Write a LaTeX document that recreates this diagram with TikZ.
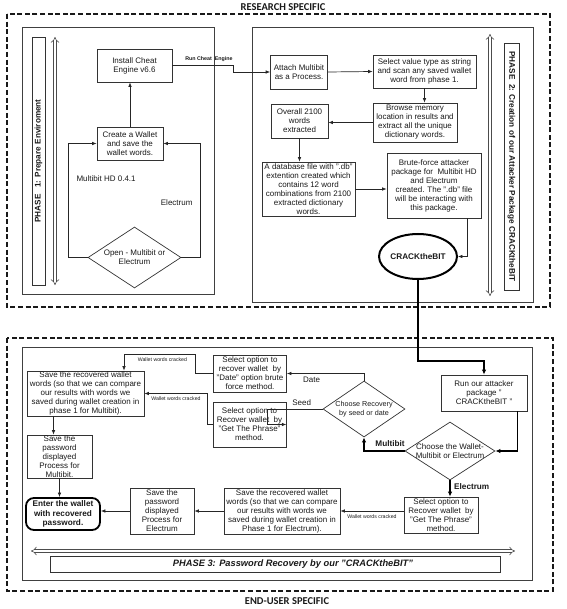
\documentclass[tikz,border=0pt]{standalone}
\usepackage{fontspec}
\setmainfont{Liberation Sans}
\newfontfamily\headfont{Carlito}
\usetikzlibrary{shapes.geometric,arrows.meta}

\begin{document}
\begin{tikzpicture}[x=1pt,y=-1pt,
  every node/.style={font=\fontsize{8}{9}\selectfont,text=black!90},
  proc node/.style={rectangle,draw=black!80,line width=0.7pt,align=center,inner sep=0.5pt},
  decision node/.style={diamond,draw=black!80,line width=0.7pt,inner sep=0pt},
  zone/.style={draw=black!90,line width=1.4pt,dash pattern=on 5pt off 2.6pt},
  panel/.style={draw=black!75,line width=0.8pt},
  flow/.style={draw=black!85,line width=0.7pt,-{Latex[length=4.5pt,width=3.6pt]}},
  thick flow/.style={draw=black,line width=1.7pt,-{Latex[length=5pt,width=4.4pt]}},
  hollow arrow/.style={draw=black!70,line width=0.6pt,double=white,double distance=2.4pt,{Implies}-{Implies}},
  phase label/.style={draw=black!80,line width=0.7pt,font=\bfseries\fontsize{8.2}{9.2}\selectfont,inner sep=0pt},
  tiny label/.style={font=\fontsize{5.2}{6}\selectfont},
  tiny bold/.style={font=\bfseries\fontsize{5.3}{6}\selectfont},
  bold label/.style={font=\bfseries\fontsize{8.2}{9.2}\selectfont},
  title/.style={font=\headfont\bfseries\fontsize{10.5}{12}\selectfont}]

  \useasboundingbox (0,0) rectangle (566,609);

  % research specific part
  \node[title] (research) at (283,7) {RESEARCH SPECIFIC};
  \draw[zone] (7,14) rectangle (550,307);
  \draw[panel] (22,27) rectangle (214,294);
  \draw[panel] (252,27) rectangle (533,302);

  % phase 1
  \node[phase label,rotate=90,minimum width=248,minimum height=13] (phase1) at (38.5,161) {PHASE\ \ \ 1: Prepare Enviroment};
  \coordinate (p1top) at (55,37);
  \coordinate (p1bot) at (55,285);
  \draw[hollow arrow] (p1top) -- (p1bot);

  \node[proc node,minimum width=75,minimum height=33] (install) at (134.5,65.5) {Install Cheat\\Engine v6.6};
  \node[proc node,minimum width=66,minimum height=33] (create) at (130,143.5) {Create a Wallet\\and save the\\wallet words.};
  \node[decision node,minimum width=93,minimum height=61] (open) at (134.5,257.5) {};
  \node[align=center] (openTxt) at (open) {Open - Multibit or\\Electrum};
  \node[anchor=west] (mbhd) at (73,179) {Multibit HD 0.4.1};
  \node[anchor=east] (elec) at (196,203) {Electrum};

  \draw[flow] (create.north) -- (create.north |- install.south);
  \draw[flow] (open.west) -- ++(-19,0) |- (create.west);
  \draw[flow] (open.east) -- ++(19,0) |- (create.east);

  % phase 2
  \node[proc node,minimum width=57,minimum height=34] (attach) at (299,72) {Attach Multibit\\as a Process.};
  \node[proc node,minimum width=103,minimum height=33] (select) at (424.5,71.5) {Select value type as string\\and scan any saved wallet\\word from phase 1.};
  \node[proc node,minimum width=84,minimum height=39] (browse) at (415,122.5) {Browse memory\\location in results and\\extract all the unique\\dictionary words.};
  \node[proc node,minimum width=57,minimum height=34] (overall) at (299.5,121) {Overall 2100\\words\\extracted};
  \node[proc node,minimum width=93,minimum height=54] (dbfile) at (308.5,189) {A database file with ".db"\\extention created which\\contains 12 word\\combinations from 2100\\extracted dictionary\\words.};
  \node[proc node,minimum width=94,minimum height=65] (brute) at (434,185.5) {Brute-force attacker\\package for\ \ Multibit HD\\and Electrum\\created. The ".db" file\\will be interacting with\\this package.};
  \node[ellipse,draw=black,line width=2pt,minimum width=71,minimum height=45,inner sep=0pt,bold label] (crack) at (418,256.5) {CRACKtheBIT};

  \node[phase label,rotate=-90,minimum width=247,minimum height=15] (phase2) at (511.5,166.5) {PHASE\ \ 2: Creation of our Attacker Package CRACKtheBIT};
  \coordinate (p2top) at (490,34);
  \coordinate (p2bot) at (490,296);
  \draw[hollow arrow] (p2top) -- (p2bot);

  \draw[flow] (install.east) -- node[tiny bold,above,pos=0.6] (runlbl) {Run Cheat\ \ Engine} ++(61,0) |- (attach.west);
  \draw[flow] (attach.east) -- (select.west);
  \draw[flow] (select.south) -- (select.south |- browse.north);
  \draw[flow] (browse.west) -- (browse.west -| overall.east);
  \draw[flow] (overall.south) -- (overall.south |- dbfile.north);
  \draw[flow] (dbfile.east) -- (dbfile.east -| brute.west);
  \draw[flow] ([xshift=-14pt]brute.south east) |- (crack.east);

  % end-user specific part
  \node[title] (enduser) at (287,601) {END-USER SPECIFIC};
  \draw[zone] (7,338) rectangle (553,591);
  \draw[panel] (22,347) rectangle (532,580);

  \node[proc node,minimum width=86,minimum height=36] (run) at (484,393) {Run our attacker\\package "\\CRACKtheBIT "};
  \node[decision node,minimum width=90,minimum height=58] (wallet) at (450,451) {};
  \node[align=center] (walletTxt) at (wallet) {Choose the Wallet-\\Multibit or Electrum};
  \node[decision node,minimum width=82,minimum height=56] (recovery) at (364,409) {};
  \node[align=center,font=\fontsize{7.2}{8.4}\selectfont] (recoveryTxt) at (recovery) {Choose Recovery\\by seed or date};
  \node[proc node,minimum width=73,minimum height=37] (datebox) at (250,373.5) {Select option to\\recover wallet\ \ by\\"Date" option brute\\force method.};
  \node[proc node,minimum width=73,minimum height=45] (seedbox) at (249.5,424.5) {Select option to\\Recover wallet\ \ by\\"Get The Phrase"\\method.};
  \node[proc node,minimum width=117,minimum height=45] (savemb) at (85.5,393.5) {Save the recovered wallet\\words (so that we can compare\\our results with words we\\saved during wallet creation in\\phase 1 for Multibit).};
  \node[proc node,minimum width=65,minimum height=43] (pwmb) at (59.5,456.5) {Save the\\password\\displayed\\Process for\\Multibit.};
  \node[proc node,rounded corners=8pt,draw=black,line width=1.8pt,minimum width=74,minimum height=32,bold label] (enter) at (63,514) {Enter the wallet\\with recovered\\password.};
  \node[proc node,minimum width=64,minimum height=46] (pwel) at (162,511) {Save the\\password\\displayed\\Process for\\Electrum};
  \node[proc node,minimum width=116,minimum height=46] (saveel) at (282,511) {Save the recovered wallet\\words (so that we can compare\\our results with words we\\saved during wallet creation in\\Phase 1 for Electrum).};
  \node[proc node,minimum width=74,minimum height=36] (selel) at (441,515) {Select option to\\Recover wallet\ \ by\\"Get The Phrase"\\method.};
  \coordinate (crackA) at (124,354);

  \draw[thick flow] (crack.south) -- ++(0,81) -| (run.north);
  \draw[thick flow] ([xshift=-10pt]run.south east) |- (wallet.east);
  \draw[thick flow] (wallet.west) -| node[bold label,above,pos=0.18] (mblbl) {Multibit} (recovery.south);
  \draw[thick flow] (wallet.south) -- node[bold label,right,pos=0.4] (ellbl) {Electrum} (wallet.south |- selel.north);
  \draw[flow] (recovery.north) |- node[pos=0.84,below] (datelbl) {Date} (datebox.east);
  \draw[flow] (recovery.west) -- node[above,pos=0.38] (seedlbl) {Seed} ++(-55,0) |- (seedbox.east);
  \draw[flow] (datebox.west) -- ++(-18,0) |- node[tiny label,below,pos=0.73] (wwc1) {Wallet words cracked} (crackA) -- (crackA |- savemb.north);
  \draw[flow] (seedbox.west) -- ++(-5,0) |- node[tiny label,below,pos=0.75] (wwc2) {Wallet words cracked} (savemb.east);
  \draw[flow] ([xshift=-32pt]savemb.south) -- ([xshift=-32pt]savemb.south |- pwmb.north);
  \draw[flow] (pwmb.south) -- (pwmb.south |- enter.north);
  \draw[flow] ([yshift=4pt]selel.west) -- node[tiny label,below] (wwc3) {Wallet words cracked} (saveel.east);
  \draw[flow] (saveel.west) -- (pwel.east);
  \draw[flow] (pwel.west) -- (pwel.west -| enter.east);

  % phase 3
  \coordinate (p3left) at (31,551);
  \coordinate (p3right) at (515,551);
  \draw[hollow arrow] (p3left) -- (p3right);
  \node[draw=black!80,line width=0.7pt,minimum width=450,minimum height=16,inner sep=0pt] (phase3) at (275,564) {};
  \node[font=\bfseries\itshape\fontsize{9.3}{10}\selectfont] (phase3Txt) at (293,564) {PHASE 3: Password Recovery by our "CRACKtheBIT"};
\end{tikzpicture}
\end{document}
